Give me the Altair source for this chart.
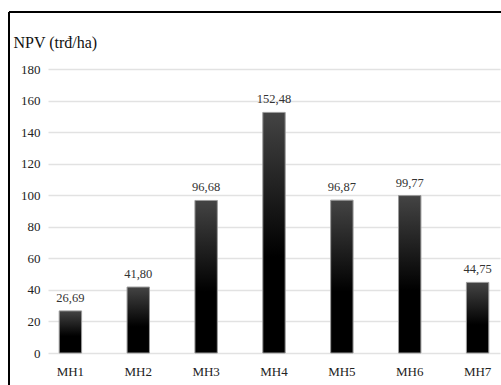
import altair as alt
import pandas as pd

categories = ["MH1", "MH2", "MH3", "MH4", "MH5", "MH6", "MH7"]
values = [26.69, 41.80, 96.68, 152.48, 96.87, 99.77, 44.75]
labels = ["26,69", "41,80", "96,68", "152,48", "96,87", "99,77", "44,75"]
y_ticks = [0, 20, 40, 60, 80, 100, 120, 140, 160, 180]

df = pd.DataFrame({"cat": categories, "val": values, "lab": labels})

FONT = "Liberation Serif"

x = alt.X("cat:N", sort=categories, title=None,
          scale=alt.Scale(paddingInner=0.67, paddingOuter=0.165),
          axis=alt.Axis(labelAngle=0, domain=False, ticks=False, labelPadding=12,
                        labelFont=FONT, labelFontSize=13, labelColor="#222"))
y = alt.Y("val:Q", title="NPV (trđ/ha)",
          scale=alt.Scale(domain=[0, 180], nice=False),
          axis=alt.Axis(values=y_ticks, domain=False, ticks=False, labelPadding=8,
                        labelOverlap=False,
                        labelFont=FONT, labelFontSize=13, labelColor="#222",
                        gridColor="#e2e2e2", gridWidth=1.5,
                        titleAngle=0, titleX=-35, titleY=-27, titleAlign="left",
                        titleBaseline="middle", titleFont=FONT, titleFontSize=16,
                        titleFontWeight="normal", titleColor="#111"))

grad = alt.Gradient(gradient="linear", x1=0, y1=0, x2=0, y2=1,
                    stops=[alt.GradientStop(color="#444444", offset=0),
                           alt.GradientStop(color="#000000", offset=0.6),
                           alt.GradientStop(color="#000000", offset=1)])

base = alt.Chart(df).encode(x=x, y=y)

bars = base.mark_bar(color=grad, stroke="#9a9a9a", strokeWidth=1)

text = base.mark_text(font=FONT, fontSize=12.5, baseline="bottom", dy=-6,
                      color="#333").encode(text="lab:N")

top_border = alt.Chart(df).mark_rule(color="black", strokeWidth=2).encode(
    x=alt.value(-39), x2=alt.value(460), y=alt.value(-57))
left_border = alt.Chart(df).mark_rule(color="black", strokeWidth=2).encode(
    x=alt.value(-39), y=alt.value(-57), y2=alt.value(330))

chart = alt.layer(bars, text, top_border, left_border).properties(
    width=452, height=284,
    autosize=alt.AutoSizeParams(type="none"),
    padding={"left": 48, "top": 69, "right": 1, "bottom": 32},
    background="white",
).configure_view(stroke=None)

chart.save("out.html", embed_options={"renderer": "svg", "actions": False})
